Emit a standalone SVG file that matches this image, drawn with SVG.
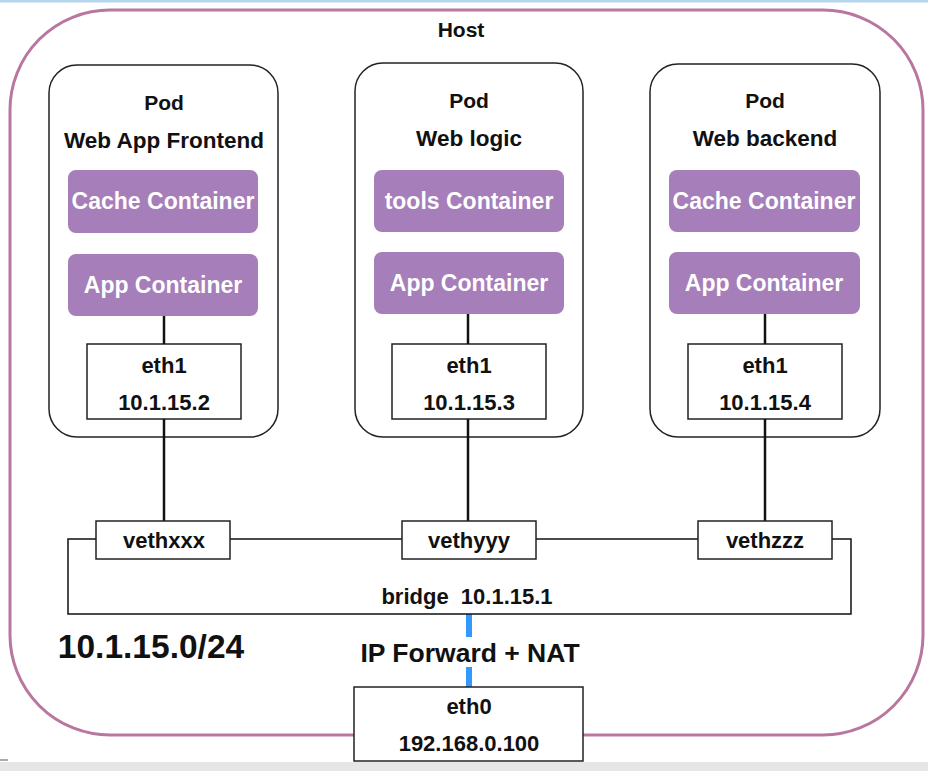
<svg xmlns="http://www.w3.org/2000/svg" width="928" height="771" viewBox="0 0 928 771">
<style>
  .t{font-family:"Liberation Sans",Arial,Helvetica,sans-serif;font-weight:bold;text-anchor:middle;fill:#111}
  .w{fill:#fff}
  .pod{fill:#fff;stroke:#222;stroke-width:1.5}
  .cont{fill:#a67eb9}
  .box{fill:#fff;stroke:#222;stroke-width:1.5}
  .ln{stroke:#111;stroke-width:2.5;fill:none}
  .thin{stroke:#111;stroke-width:1.5;fill:none}
  .blue{stroke:#3399ff;stroke-width:6;fill:none}
</style>
<rect x="0" y="0" width="928" height="771" fill="#fff"/>
<rect x="0" y="0" width="928" height="2.5" fill="#b3d6ec"/>
<g id="host">
  <rect x="10" y="10" width="913" height="725" rx="100" ry="100" fill="#fff" stroke="#b9779f" stroke-width="3"/>
  <text class="t" x="461" y="37" font-size="21">Host</text>
</g>
<g id="pod-frontend">
  <rect class="pod" x="49" y="65" width="229" height="372" rx="28"/>
  <text class="t" x="164" y="110" font-size="21">Pod</text>
  <text class="t" x="164" y="148" font-size="22.5">Web App Frontend</text>
  <rect class="cont" x="68" y="170" width="190" height="63" rx="8"/>
  <text class="t w" x="163" y="209" font-size="23">Cache Container</text>
  <rect class="cont" x="68" y="254" width="190" height="62" rx="8"/>
  <text class="t w" x="163" y="293" font-size="23">App Container</text>
  <rect class="box" x="87" y="344" width="154" height="75"/>
  <text class="t" x="164" y="373" font-size="22">eth1</text>
  <text class="t" x="164" y="410" font-size="22">10.1.15.2</text>
</g>
<g id="pod-logic">
  <rect class="pod" x="355" y="63" width="228" height="374" rx="28"/>
  <text class="t" x="469" y="108" font-size="21">Pod</text>
  <text class="t" x="469" y="146" font-size="22.5">Web logic</text>
  <rect class="cont" x="374" y="170" width="190" height="62" rx="8"/>
  <text class="t w" x="469" y="209" font-size="23">tools Container</text>
  <rect class="cont" x="374" y="252" width="190" height="62" rx="8"/>
  <text class="t w" x="469" y="291" font-size="23">App Container</text>
  <rect class="box" x="392" y="344" width="154" height="75"/>
  <text class="t" x="469" y="373" font-size="22">eth1</text>
  <text class="t" x="469" y="410" font-size="22">10.1.15.3</text>
</g>
<g id="pod-backend">
  <rect class="pod" x="650" y="64" width="230" height="373" rx="28"/>
  <text class="t" x="765" y="108" font-size="21">Pod</text>
  <text class="t" x="765" y="146" font-size="22.5">Web backend</text>
  <rect class="cont" x="669" y="170" width="191" height="62" rx="8"/>
  <text class="t w" x="764" y="209" font-size="23">Cache Container</text>
  <rect class="cont" x="669" y="252" width="191" height="62" rx="8"/>
  <text class="t w" x="764" y="291" font-size="23">App Container</text>
  <rect class="box" x="688" y="344" width="154" height="75"/>
  <text class="t" x="765" y="373" font-size="22">eth1</text>
  <text class="t" x="765" y="410" font-size="22">10.1.15.4</text>
</g>
<g id="connectors">
  <line class="ln" x1="164" y1="316" x2="164" y2="344"/>
  <line class="ln" x1="468" y1="314" x2="468" y2="344"/>
  <line class="ln" x1="765" y1="314" x2="765" y2="344"/>
  <line class="ln" x1="164" y1="419" x2="164" y2="521"/>
  <line class="ln" x1="468" y1="419" x2="468" y2="521"/>
  <line class="ln" x1="765" y1="419" x2="765" y2="521"/>
  <line class="blue" x1="469" y1="614" x2="469" y2="637"/>
  <line class="blue" x1="469" y1="667" x2="469" y2="687"/>
</g>
<g id="bridge">
  <path class="thin" d="M96 539 H68 V614 H851 V539 H832"/>
  <line class="thin" x1="230" y1="539" x2="402" y2="539"/>
  <line class="thin" x1="536" y1="539" x2="698" y2="539"/>
  <text class="t" x="467" y="604" font-size="22" xml:space="preserve">bridge  10.1.15.1</text>
</g>
<g id="vethxxx">
  <rect class="box" x="96" y="521" width="134" height="38"/>
  <text class="t" x="164" y="548" font-size="22">vethxxx</text>
</g>
<g id="vethyyy">
  <rect class="box" x="402" y="521" width="134" height="38"/>
  <text class="t" x="469" y="548" font-size="22">vethyyy</text>
</g>
<g id="vethzzz">
  <rect class="box" x="698" y="521" width="134" height="38"/>
  <text class="t" x="765" y="548" font-size="22">vethzzz</text>
</g>
<g id="subnet">
  <text class="t" x="151" y="658" font-size="33.5">10.1.15.0/24</text>
</g>
<g id="nat-label">
  <text class="t" x="470" y="662" font-size="26.5">IP Forward + NAT</text>
</g>
<g id="eth0">
  <rect class="box" x="354" y="687" width="229" height="74"/>
  <text class="t" x="469" y="714" font-size="22">eth0</text>
  <text class="t" x="469" y="751" font-size="22">192.168.0.100</text>
</g>
<rect x="0" y="762" width="928" height="9" fill="#e6e6e6"/>
<rect x="0" y="759" width="8" height="2" fill="#aaaaaa"/>
</svg>
